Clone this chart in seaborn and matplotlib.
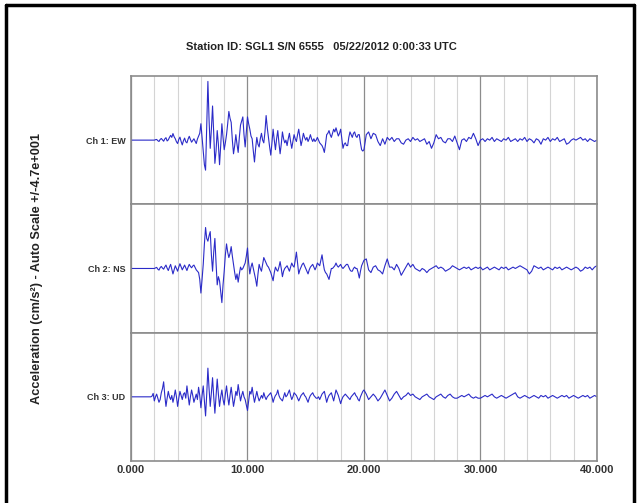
import numpy as np
import pandas as pd
import matplotlib.pyplot as plt
import seaborn as sns
from matplotlib.lines import Line2D
from matplotlib.ticker import MultipleLocator, FormatStrFormatter

sns.set_style("white")
plt.rcParams["font.family"] = ["Liberation Sans", "DejaVu Sans"]

title = "Station ID: SGL1 S/N 6555   05/22/2012 0:00:33 UTC"
ylabel = "Acceleration (cm/s\u00b2) - Auto Scale +/-4.7e+001"
channels = ["Ch 1: EW", "Ch 2: NS", "Ch 3: UD"]
scale = 47.0   # +/- range of each band

# acceleration (cm/s^2)
# early part: 0 - 19.9 s every 0.1 s (one row = 2 s)
# late part: 20 - 40 s every 0.2 s (one row = 2 s)
ch1_ew_early = [
    0, 0, 0, 0, 0, 0, 0, 0, 0, 0, 0, 0, 0, 0, 0, 0, 0, 0, 0, 0,
    0, 0.3, 0.5, -0.4, -1.0, 0.5, 1.2, 0.2, -0.8, 0.9, 1.8, -0.6, 0.2, 2.0, 3.5, 2.0, 4.8, 2.5, 1.0, -1.2,
    -2.5, 0.5, 2.2, -1.0, -3.5, -0.5, 1.5, -1.2, -2.0, 0.8, 2.8, 0.5, -1.5, -0.2, 1.0, -0.8, -2.5, 0.8, 3.0, 5.0,
    12, 2, -8, -18, -22, 10, 43, 15, -6, 8, 25, 5, -17, -8, 7, -3, -18, -4, 12, 2,
    -7, -2, 4, 12, 21, 16, 13, 0, -10, -4, 4, -3, -9, 2, 11, 14, 17, 4, -5, 6,
    17, 12, 8, 3, 1, -8, -16, -6, 2, -3, -5, 1, 5, 0, -2, 6, 18, 9, 2, -5,
    -11, -2, 8, 0, -7, 1, 7, -2, -10, -3, 6, 1, -2, 0, -4, 1, 5, -1, -6, -1,
    4, 1, -1, 4, 8, 2, -4, 0, 5, 2, 0, 2, -1, 1, 4, 1, -1, 1, -1, 0,
    2, 0, -2, -3, -4, -6, -9, -3, 4, 5, 7, 4, 2, 5, 8, 6, 9, 6, 3, 5,
    8, 1, -6, -3, -2, -4, -4, 2, 6, 4, 2, 5, 6, 3, 2, 4, 4, -2, -7, -8,
]
ch1_ew_late = [
    -7, 4, 6, 1, 5, 4, -1, -4, 1, -3,
    2, 0, 2, -1, 1, 1, -2, -3, 0, 1,
    -1, 2, 0, 1, -1, 0, 1, -3, -1, -6,
    -2, 4, 1, 2, -1, -2, 1, 1, -1, 3,
    -2, -7, 0, 1, -1, 2, 1, 5, 1, -4,
    0, 1, -1, 1, 0, 2, -1, 1, 0, -1,
    1, 0, 2, -1, 0, 1, -1, 1, 0, 2,
    -1, 1, 0, -2, 1, 0, -3, 1, 0, 2,
    -1, 1, 0, 2, -1, 0, 1, -3, -2, 0,
    1, 0, 1, 2, 0, 1, -1, 1, 0, -1,
    0,
]

ch2_ns_early = [
    0, 0, 0, 0, 0, 0, 0, 0, 0, 0, 0, 0, 0, 0, 0, 0, 0, 0, 0, 0,
    0, 0.4, 0.8, -0.5, -1.2, 0.6, 1.5, 0.3, -0.5, 1.2, 2.5, 0.2, -1.5, 1.0, 3.0, -0.5, -4.0, -1.0, 2.0, 0.0,
    -2.0, 1.0, 3.5, 1.2, -1.0, 0.8, 2.5, 0.5, -1.5, 1.0, 3.0, 1.5, 0.5, 1.8, 2.5, 0.8, -1.0, -2.0, -3.0, -8.0,
    -18, -8, 3, 18, 30, 22, 20, 24, 27, 10, -2, 12, 22, 4, -12, -6, -9, -17, -25, -12,
    -2, 10, 18, 12, 8, 11, 16, 9, 3, -3, -8, -4, -10, -4, 1, -1, 0, 2, 4, 9,
    15, 4, -4, 1, 4, 0, -4, -8, -13, -4, 3, 0, -2, 3, 8, 6, 4, 2, 1, -1,
    -3, -6, -9, -3, 1, -1, -2, 1, 5, 0, -6, -2, 0, 1, 2, 0, -2, 1, 4, 2,
    1, 6, 12, 4, -4, -1, 1, 3, 4, 2, 0, -2, -4, -1, 1, 2, 3, 1, -1, 1,
    4, 3, 2, 6, 10, 4, -1, -3, -4, -6, -8, -4, 0, 0, 1, 2, 4, 2, 1, 2,
    3, 1, 0, 1, 2, 3, 3, 1, -1, -2, -2, 0, 1, 0, 0, -3, -7, -2, 2, 4,
]
ch2_ns_late = [
    6, 7, -1, -3, 1, 2, -1, -2, -4, 2,
    7, 1, 1, -1, 3, 0, -5, -2, 1, 4,
    1, 3, 0, -1, -2, 0, -1, -3, -1, 0,
    1, 2, 0, 1, 0, -2, -1, 0, 2, 1,
    0, -1, 0, 1, 0, 1, -1, 0, 1, 0,
    1, -1, 0, 1, -1, 0, 1, 0, -1, 1,
    0, 1, -1, 0, 1, 0, 1, 2, 1, 0,
    -1, -4, -2, 2, 1, 0, 1, -1, 0, 1,
    0, -1, 1, 0, 1, -1, 0, 1, 0, -1,
    0, 1, 0, -2, -1, 1, 0, 1, -1, 1,
    2,
]

ch3_ud_early = [
    0, 0, 0, 0, 0, 0, 0, 0, 0, 0, 0, 0, 0, 0, 0, 0, 0, 0, 0.5, 2.5,
    -3, 0, 2, -1, -4, -2, 3, 6, 11, 1, -7, -1, 4, 0, -2, 1, -4, 0, 5, 0,
    -7, -1, 4, 1, -2, 2, 3, -1, 8, 1, -6, 0, 5, 1, -4, -1, 2, -2, 7, 1,
    -8, 1, 8, -3, -14, 2, 21, 6, -7, 3, 14, 0, -12, 1, 13, 2, -7, 0, 5, -2,
    -6, 2, 8, 0, -6, 1, 7, 0, -7, -2, 4, 1, 9, 3, -3, 1, 4, 0, -2, -6,
    -10, -3, 4, 2, 7, 1, -4, 0, 4, 0, -3, -1, 1, -1, 3, 0, -2, 0, 1, 2,
    3, 0, -4, -1, 1, 2, 5, 1, -1, -2, -3, 0, 3, 0, 1, 3, 5, 1, -2, 0,
    3, 2, 1, -1, -3, -1, 1, 2, 3, 1, 0, -2, -4, -1, 1, 2, 3, 1, 0, -1,
    -1, 0, -2, 0, 2, 3, 4, 0, -4, -1, 1, 2, 3, 0, -3, 1, 5, 3, 1, -2,
    -5, -2, 0, 1, 2, 1, 0, -1, -2, 0, 1, 2, 3, 1, 0, -2, -3, 0, 2, 4,
]
ch3_ud_late = [
    5, 2, -2, 0, 2, 0, -3, -1, 2, 5,
    1, -3, -1, 2, 4, 1, -2, 0, 1, 3,
    1, 2, 0, -1, -2, 0, 1, 2, 0, -1,
    -2, 0, 1, 2, 0, -1, 1, 2, 0, -1,
    -1, 0, 1, 0, 1, 2, 0, -1, 0, -1,
    -1, 0, 1, 0, 1, 2, 0, -1, 0, 1,
    0, -1, 0, 1, 2, 3, 0, -1, 0, 1,
    0, -1, 0, 1, 0, -1, 1, 0, 1, -1,
    0, 1, 0, -1, 0, 1, 0, 1, -1, 0,
    1, 0, -1, 0, 1, 0, 1, -1, 0, 1,
    0,
]

traces = {
    "Ch 1: EW": (ch1_ew_early, ch1_ew_late),
    "Ch 2: NS": (ch2_ns_early, ch2_ns_late),
    "Ch 3: UD": (ch3_ud_early, ch3_ud_late),
}

frames = []
for name, (early, late) in traces.items():
    t = np.concatenate([np.arange(len(early)) * 0.1, 20 + np.arange(len(late)) * 0.2])
    frames.append(pd.DataFrame({"time": t, "accel": early + late, "channel": name}))
df = pd.concat(frames)

fig, axes = plt.subplots(3, 1, sharex=True, figsize=(6.37, 5.03), dpi=100)
fig.subplots_adjust(left=0.2057, right=0.937, top=0.849, bottom=0.0835, hspace=0)

for ax, name in zip(axes, channels):
    sns.lineplot(data=df[df["channel"] == name], x="time", y="accel", ax=ax,
                 color="#2b2bc8", linewidth=0.8, estimator=None)
    ax.set_xlim(0, 40)
    ax.set_ylim(-scale, scale)
    ax.set_yticks([-scale, 0, scale])
    ax.set_yticklabels(["", name, ""], fontsize=6.5, fontweight="bold", color="#333333")
    ax.xaxis.set_major_locator(MultipleLocator(10))
    ax.xaxis.set_minor_locator(MultipleLocator(2))
    ax.xaxis.set_major_formatter(FormatStrFormatter("%.3f"))
    ax.grid(which="minor", axis="x", color="#d4d4d4", linewidth=0.8)
    ax.grid(which="major", axis="x", color="#8c8c8c", linewidth=0.9)
    ax.set_axisbelow(True)
    ax.set_xlabel("")
    ax.set_ylabel("")
    for s in ax.spines.values():
        s.set_color("#8c8c8c")
        s.set_linewidth(1.2)
    ax.tick_params(axis="y", direction="in", length=9, color="#8c8c8c", pad=4)
    ax.tick_params(axis="x", which="both", length=0, pad=3)

for lab in axes[-1].get_xticklabels():
    lab.set_fontsize(8)
    lab.set_fontweight("bold")
    lab.set_color("#333333")

fig.text(0.504, 1 - 47 / 503, title, ha="center", va="center",
         fontsize=8, fontweight="bold", color="#222222")
fig.text(37 / 637, 1 - 268 / 503, ylabel, ha="center", va="center", rotation=90,
         fontsize=9.2, fontweight="bold", color="#222222")

# black frame around the picture (no bottom edge)
for xs, ys in [([0.009, 0.9955], [0.991, 0.991]),
               ([0.009, 0.009], [0.991, 0.0]),
               ([0.9955, 0.9955], [0.991, 0.0])]:
    fig.add_artist(Line2D(xs, ys, transform=fig.transFigure, color="black", linewidth=2.5))

fig.savefig("out.png", dpi=100)
